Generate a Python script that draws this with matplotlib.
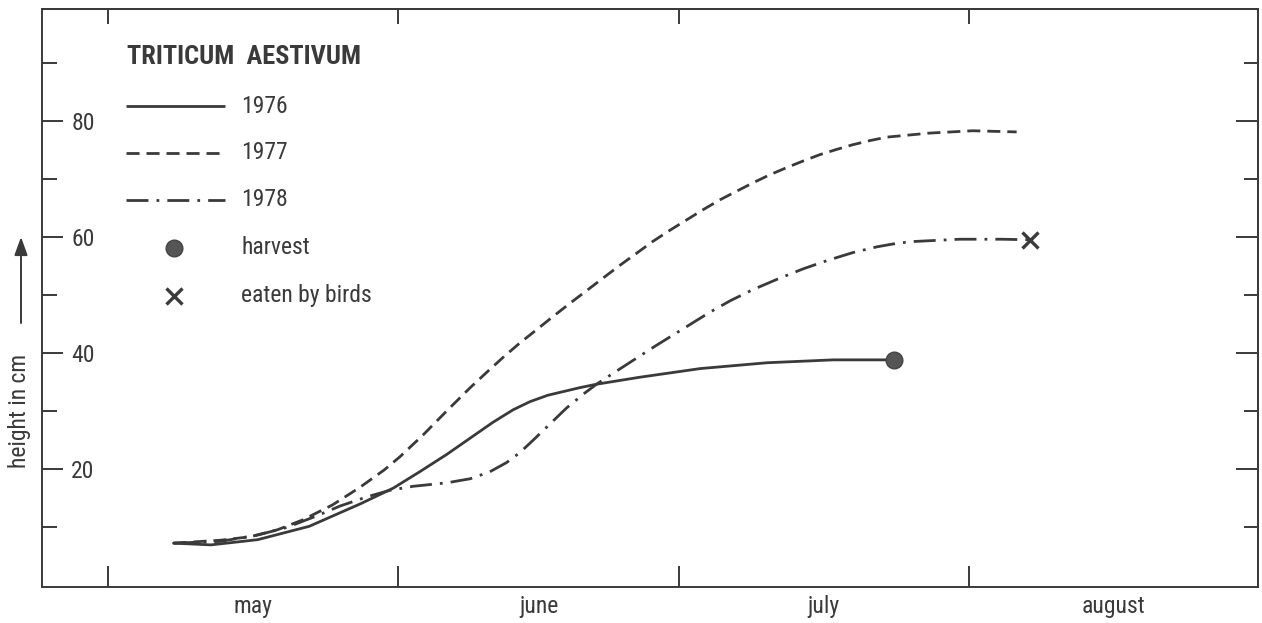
import matplotlib
matplotlib.use("Agg")
import matplotlib.pyplot as plt
from matplotlib import font_manager as fm
from matplotlib.ticker import FixedLocator, NullFormatter

# --- data: plant height of Triticum aestivum (days counted from 1 May) ---
days_1976 = [7, 11, 16, 21.5, 27, 30.5, 33.3, 36.2, 39.5, 41.1, 43.3, 45.1, 47, 50.4,
             52.2, 56.8, 63.3, 70.4, 77.5, 84]
h_1976 = [7.3, 7.0, 7.9, 10.2, 14.1, 16.8, 19.6, 22.6, 26.3, 28.1, 30.3, 31.7, 32.8, 34.1,
          34.7, 35.9, 37.4, 38.4, 38.9, 38.9]

days_1977 = [7, 12, 15.2, 18.1, 20.8, 24, 26.9, 29.5, 31.2, 33.7, 36.2, 38.7, 40.5, 42.2,
             44, 45.8, 47.5, 49.4, 51.2, 52.9, 54.7, 56.5, 58.2, 60, 61.9, 63.6, 65.4, 67.2,
             68.9, 70.7, 72.6, 74.3, 76.1, 77.9, 79.6, 81.4, 83.2, 87.8, 92.4, 97.1]
h_1977 = [7.3, 7.8, 8.4, 9.6, 11.3, 13.9, 16.9, 19.9, 22.2, 26.0, 30.1, 34.1, 36.8, 39.3,
          41.8, 44.1, 46.3, 48.7, 50.9, 53.0, 55.2, 57.3, 59.3, 61.2, 63.1, 64.8, 66.5, 68.0,
          69.4, 70.8, 72.1, 73.2, 74.3, 75.2, 76.0, 76.7, 77.3, 78.0, 78.4, 78.2]

days_1978 = [7, 12, 16, 19.1, 22.3, 24.8, 27.7, 30.1, 32.6, 36.2, 38.7, 40.8, 42.6, 44,
             45.4, 47.2, 49, 50.8, 52.2, 53.9, 56.1, 58.5, 60.4, 62.5, 64.3, 66.5, 68.9,
             71.8, 74.3, 76.8, 79.6, 82.2, 84.3, 86, 91, 95.6, 98.5]
h_1978 = [7.3, 7.6, 8.7, 10.0, 12.0, 13.7, 15.3, 16.4, 17.1, 17.7, 18.4, 19.6, 21.2, 22.9,
          25.0, 27.8, 30.6, 33.0, 34.7, 36.5, 38.8, 41.3, 43.2, 45.3, 47.1, 49.1, 51.0,
          53.0, 54.6, 56.0, 57.4, 58.4, 59.0, 59.3, 59.7, 59.7, 59.6]

month_starts = [0, 31, 61, 92]          # 1 May, 1 June, 1 July, 1 August
month_names = ["may", "june", "july", "august"]
month_end = 123                          # 1 September
y_major = [20, 40, 60, 80]
y_minor = [10, 30, 50, 70, 90]
series_labels = ["1976", "1977", "1978"]


def pick_narrow_font():
    """Return (family, stretch) of the narrowest sans face that is installed."""
    entries = fm.fontManager.ttflist
    wanted = ["Liberation Sans Narrow", "Roboto Condensed", "Noto Sans", "DejaVu Sans",
              "Open Sans", "Lato", "Inter", "Roboto"]
    for name in wanted:
        for f in entries:
            if f.name == name and (name.endswith(("Narrow", "Condensed"))
                                   or "condensed" in str(f.stretch)):
                return name, f.stretch
    names = {f.name for f in entries}
    for name in ["Liberation Sans", "Roboto", "DejaVu Sans"]:
        if name in names:
            return name, "normal"
    return "DejaVu Sans", "normal"


FAMILY, STRETCH = pick_narrow_font()
INK = "#3a3a3a"
plt.rcParams["font.family"] = [FAMILY, "DejaVu Sans"]
plt.rcParams["font.stretch"] = STRETCH
plt.rcParams["text.color"] = INK

fig = plt.figure(figsize=(12.62, 6.23), dpi=100)
ax = fig.add_axes([0.0333, 0.0578, 0.9636, 0.9278])
ax.set_xlim(-7.05, 122.9)
ax.set_ylim(-0.26, 99.4)

LW = 2.0
DASH = (4.7, 2.5)
DASHDOT = (7.9, 2.9, 1.0, 2.9)

ax.plot(days_1976, h_1976, color=INK, lw=LW, solid_capstyle="round", solid_joinstyle="round")
ax.plot(days_1977, h_1977, color=INK, lw=LW, dashes=DASH)
ax.plot(days_1978, h_1978, color=INK, lw=LW, dashes=DASHDOT)

# end-of-season markers
ax.plot(days_1976[-1], h_1976[-1], "o", ms=12, color="#555555", mec="#444444")
ax.plot(days_1978[-1], h_1978[-1], marker="x", ms=12, mew=2.4, color=INK, ls="none")

# frame
for sp in ax.spines.values():
    sp.set_color(INK)
    sp.set_linewidth(1.4)

FS = 17

# x axis: month boundaries as ticks, month names centred between them
mids = [(a + b) / 2 for a, b in zip(month_starts, month_starts[1:] + [month_end])]
ax.xaxis.set_major_locator(FixedLocator(month_starts))
ax.xaxis.set_major_formatter(NullFormatter())
ax.xaxis.set_minor_locator(FixedLocator(mids))
ax.set_xticklabels(month_names, minor=True)
ax.tick_params(axis="x", which="major", direction="in", length=15, width=1.4,
               color=INK, top=False)
ax.tick_params(axis="x", which="minor", length=0, pad=6, labelsize=FS,
               labelcolor=INK, top=False)

# y axis: labelled ticks with the numbers placed inside the frame
ax.yaxis.set_major_locator(FixedLocator(y_major))
ax.set_yticklabels([str(v) for v in y_major])
ax.yaxis.set_minor_locator(FixedLocator(y_minor))
ax.tick_params(axis="y", which="major", direction="in", length=15, width=1.4,
               color=INK, pad=-21, labelsize=FS, labelcolor=INK, right=False)
ax.tick_params(axis="y", which="minor", direction="in", length=11, width=1.4,
               color=INK, right=False)
plt.setp(ax.get_yticklabels(), ha="left")

# top and right ticks
secx = ax.secondary_xaxis("top")
secx.xaxis.set_major_locator(FixedLocator(month_starts))
secx.xaxis.set_major_formatter(NullFormatter())
secx.tick_params(direction="in", length=11, width=1.4, color=INK)
secx.spines["top"].set_color(INK)
secx.spines["top"].set_linewidth(1.4)

secy = ax.secondary_yaxis("right")
secy.yaxis.set_major_locator(FixedLocator(y_major))
secy.yaxis.set_minor_locator(FixedLocator(y_minor))
secy.yaxis.set_major_formatter(NullFormatter())
secy.yaxis.set_minor_formatter(NullFormatter())
secy.tick_params(which="major", direction="in", length=16, width=1.4, color=INK)
secy.tick_params(which="minor", direction="in", length=10, width=1.4, color=INK)
secy.spines["right"].set_color(INK)
secy.spines["right"].set_linewidth(1.4)

# key
T = ax.transAxes
ax.text(0.0699, 0.917, "TRITICUM  AESTIVUM", transform=T, ha="left", va="center",
        fontsize=19, fontweight="bold")
key_y = [0.832, 0.751, 0.670]
styles = [dict(solid_capstyle="butt"), dict(dashes=DASH), dict(dashes=DASHDOT)]
for y, lab, st in zip(key_y, series_labels, styles):
    ax.plot([0.0691, 0.1505], [y, y], transform=T, color=INK, lw=LW, clip_on=False, **st)
    ax.text(0.1637, y, lab, transform=T, ha="left", va="center", fontsize=FS)
ax.plot([0.1086], [0.5865], "o", ms=12, color="#555555", mec="#444444", transform=T)
ax.text(0.1637, 0.5865, "harvest", transform=T, ha="left", va="center", fontsize=FS)
ax.plot([0.1086], [0.5035], marker="x", ms=12, mew=2.4, color=INK, transform=T)
ax.text(0.1637, 0.5035, "eaten by birds", transform=T, ha="left", va="center", fontsize=FS)

# axis title with upward arrow
fig.text(20 / 1262, 212 / 623, "height in cm", rotation=90, ha="center", va="center",
         fontsize=FS)
ax.annotate("", xy=(21 / 1262, 386 / 623), xytext=(21 / 1262, 300 / 623),
            xycoords="figure fraction", textcoords="figure fraction",
            arrowprops=dict(arrowstyle="-|>,head_length=0.55,head_width=0.2",
                            mutation_scale=20, lw=1.4, color=INK,
                            shrinkA=0, shrinkB=0))

fig.savefig("out.png", dpi=100)
